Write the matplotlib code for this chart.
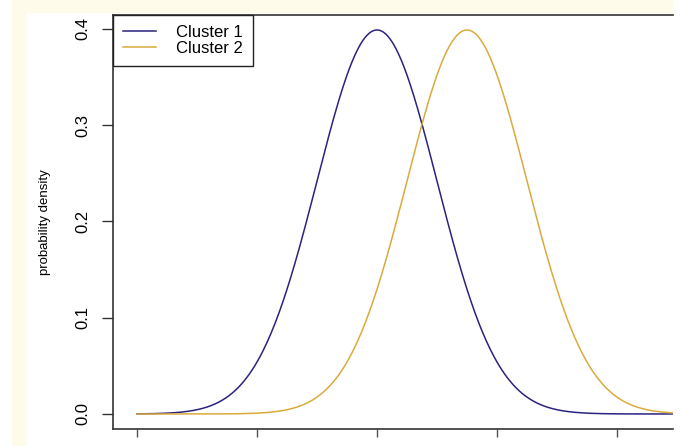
import numpy as np
import matplotlib
matplotlib.use('Agg')
import matplotlib.pyplot as plt
from matplotlib.patches import Rectangle

plt.rcParams['font.family'] = ['Liberation Sans', 'DejaVu Sans']

# Cluster density parameters
cluster_names = ['Cluster 1', 'Cluster 2']
cluster_means = [0.0, 1.5]
cluster_sds = [1.0, 1.0]
cluster_colors = ['#2b2380', '#d9ab3c']
x_ticks = [-4, -2, 0, 2, 4]
y_ticks = [0.0, 0.1, 0.2, 0.3, 0.4]

W, H = 682, 446
fig = plt.figure(figsize=(W / 100, H / 100), dpi=100, facecolor='white')

# thin cream frame around the top/left of the screenshot
fig.patches.append(Rectangle((12 / W, 0), 13 / W, (H - 12) / H, transform=fig.transFigure,
                             color='#fffbea', zorder=0))
fig.patches.append(Rectangle((12 / W, (H - 12) / H), (672 - 12) / W, 12 / H,
                             transform=fig.transFigure, color='#fffbea', zorder=0))

left, right, top, bottom = 113, 673, 15, 429
ax = fig.add_axes([left / W, (H - bottom) / H, (right - left) / W, (bottom - top) / H])

x = np.linspace(-4, 5.5, 600)
for name, mu, sd, col in zip(cluster_names, cluster_means, cluster_sds, cluster_colors):
    dens = np.exp(-0.5 * ((x - mu) / sd) ** 2) / (sd * np.sqrt(2 * np.pi))
    ax.plot(x, dens, color=col, lw=1.1, label=name)

px_per_unit = 60.0
ax.set_xlim(-(377 - left) / px_per_unit, (right - 377) / px_per_unit)
ax.set_ylim(-0.0156, 0.4145)

ax.set_xticks(x_ticks)
ax.set_yticks(y_ticks)
ax.set_yticklabels([f'{v:.1f}' for v in y_ticks], rotation=90, va='center')
ax.tick_params(axis='y', length=8, width=1, color='#333333', labelsize=12, pad=8)
ax.tick_params(axis='x', length=6, width=1, color='#555555', labelbottom=False)

for s in ['left', 'bottom', 'top']:
    ax.spines[s].set_color('#333333')
    ax.spines[s].set_linewidth(1.2)
ax.spines['right'].set_visible(False)

ax.set_ylabel('probability density', fontsize=9.5, labelpad=18)

leg = ax.legend(loc='upper left', bbox_to_anchor=(0, 1), borderaxespad=0,
                fancybox=False, framealpha=1, edgecolor='#222222', fontsize=12,
                handlelength=2.0, handletextpad=1.2, borderpad=0.6, labelspacing=0.05)
leg.get_frame().set_linewidth(1.0)

fig.savefig('out.png', dpi=100)
